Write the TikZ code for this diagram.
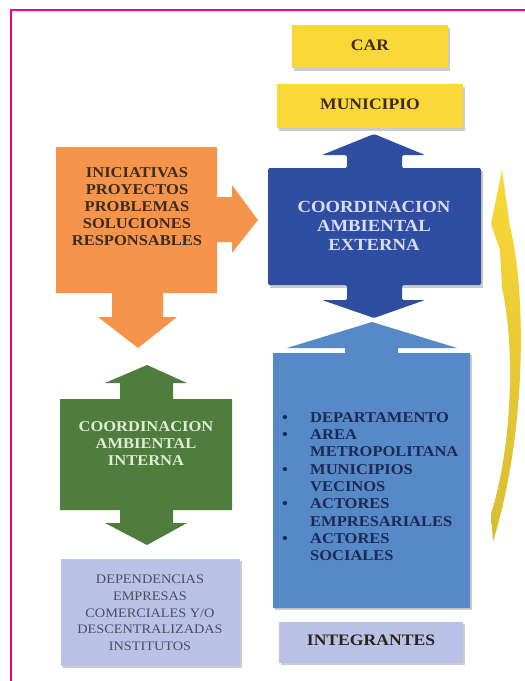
\documentclass[tikz,border=0pt]{standalone}
\usepackage{fontspec}
\setmainfont{Liberation Serif}[FakeStretch=1.1]
\definecolor{frame}{HTML}{EC008C}
\definecolor{gold}{HTML}{FAD838}
\definecolor{goldlow}{HTML}{D8BC32}
\definecolor{orangeF}{HTML}{F6944B}
\definecolor{navyF}{HTML}{2F4EA2}
\definecolor{greenF}{HTML}{4E7D3E}
\definecolor{skyF}{HTML}{5589C8}
\definecolor{lilac}{HTML}{B9C2E6}
\definecolor{inkbrown}{HTML}{3A2C1E}
\definecolor{inknavy}{HTML}{1E2A52}
\definecolor{inkgray}{HTML}{4C4C5E}
\definecolor{paleblue}{HTML}{D9DEF5}
\definecolor{palegreen}{HTML}{E2EADA}
\begin{document}
\begin{tikzpicture}[x=1pt,y=-1pt,
  shadowed/.style={fill=black,opacity=0.2},
  lbl/.style={align=center,inner sep=0pt,font=\bfseries\fontsize{15}{17}\selectfont},
  title/.style={inner sep=0pt,font=\bfseries\fontsize{16}{18}\selectfont,text=inkbrown}]
\useasboundingbox (0,0) rectangle (525,681);
\fill[white] (0,0) rectangle (525,681);

% outer frame
\draw[frame,line width=2.5pt] (11,690) -- (11,10) -- (530,10);

% top boxes
\fill[shadowed] (293.5,27.5) rectangle (449.5,70.5);
\fill[gold] (292,25) rectangle (448,68);
\node[title] (car) at (370,45) {CAR};
\fill[shadowed] (278.5,86.5) rectangle (464.5,130.5);
\fill[gold] (277,84) rectangle (463,128);
\node[title] (mun) at (370,104) {MUNICIPIO};

% external coordination: double block arrow
\fill[shadowed,shift={(1.5,2.5)}] (268,168) -- (481,168) -- (481,285) -- (268,285) -- cycle;
\fill[navyF,rounded corners=1.5pt] (268,168) -- (347,168) -- (347,155) -- (322,155) -- (374,134)
  -- (425,155) -- (402,155) -- (402,168) -- (481,168) -- (481,285) -- (402,285) -- (402,300)
  -- (425,300) -- (374,318) -- (322,300) -- (347,300) -- (347,285) -- (268,285) -- cycle;
\node[lbl,text=paleblue,font=\bfseries\fontsize{17}{19}\selectfont] (ext) at (374,226)
  {COORDINACION\\AMBIENTAL\\EXTERNA};

% initiatives: box with arrows to the right and down
\fill[orangeF] (56,147) -- (217,147) -- (217,197) -- (232,197) -- (232,185) -- (258,220)
  -- (232,253) -- (232,242) -- (217,242) -- (217,293) -- (163,293) -- (163,317) -- (177,317)
  -- (138,348) -- (98,317) -- (112,317) -- (112,293) -- (56,293) -- cycle;
\node[lbl,text=inkbrown] (ini) at (137,207)
  {INICIATIVAS\\PROYECTOS\\PROBLEMAS\\SOLUCIONES\\RESPONSABLES};

% internal coordination: double block arrow
\fill[greenF] (60,399) -- (120,399) -- (120,383) -- (105,383) -- (147,365) -- (187,383)
  -- (173,383) -- (173,399) -- (232,399) -- (232,510) -- (173,510) -- (173,523) -- (187,523)
  -- (147,545) -- (105,523) -- (120,523) -- (120,510) -- (60,510) -- cycle;
\node[lbl,text=palegreen] (int) at (146,444)
  {COORDINACION\\AMBIENTAL\\INTERNA};

% members: box with arrow up
\fill[shadowed,shift={(1.5,2)}] (273,353) rectangle (470,608);
\fill[skyF] (273,353) -- (345,353) -- (345,348) -- (287,348) -- (372,322) -- (457,348)
  -- (398,348) -- (398,353) -- (470,353) -- (470,608) -- (273,608) -- cycle;
\node[inner sep=0pt,anchor=west,text=inknavy,font=\bfseries\fontsize{15}{17.3}\selectfont] (list) at (282,488)
  {\begin{tabular}{@{}l@{}l@{}}
   \makebox[28pt][l]{\textbullet} & DEPARTAMENTO\\
   \textbullet & AREA\\
               & METROPOLITANA\\
   \textbullet & MUNICIPIOS\\
               & VECINOS\\
   \textbullet & ACTORES\\
               & EMPRESARIALES\\
   \textbullet & ACTORES\\
               & SOCIALES
   \end{tabular}};

% bottom boxes
\fill[shadowed] (62.5,561) rectangle (241.5,668);
\fill[lilac] (61,559) rectangle (240,666);
\node[align=center,inner sep=0pt,text=inkgray,font=\fontsize{13}{16.7}\selectfont] (dep) at (150,613)
  {DEPENDENCIAS\\EMPRESAS\\COMERCIALES Y/O\\DESCENTRALIZADAS\\INSTITUTOS};
\fill[shadowed] (280.5,624) rectangle (464.5,665);
\fill[lilac] (279,622) rectangle (463,663);
\node[inner sep=0pt,text=inkbrown!80!black,font=\bfseries\fontsize{16}{18}\selectfont] (integ) at (371,640) {INTEGRANTES};

% curved return arrow on the right
\shade[top color=gold,bottom color=goldlow]
  (502,170) -- (510,227) .. controls (524,280) and (530,420) .. (493,542)
  -- (491,514) .. controls (514,440) and (514,340) .. (502,288)
  -- (500,250) -- (491,224) -- cycle;
\end{tikzpicture}
\end{document}
